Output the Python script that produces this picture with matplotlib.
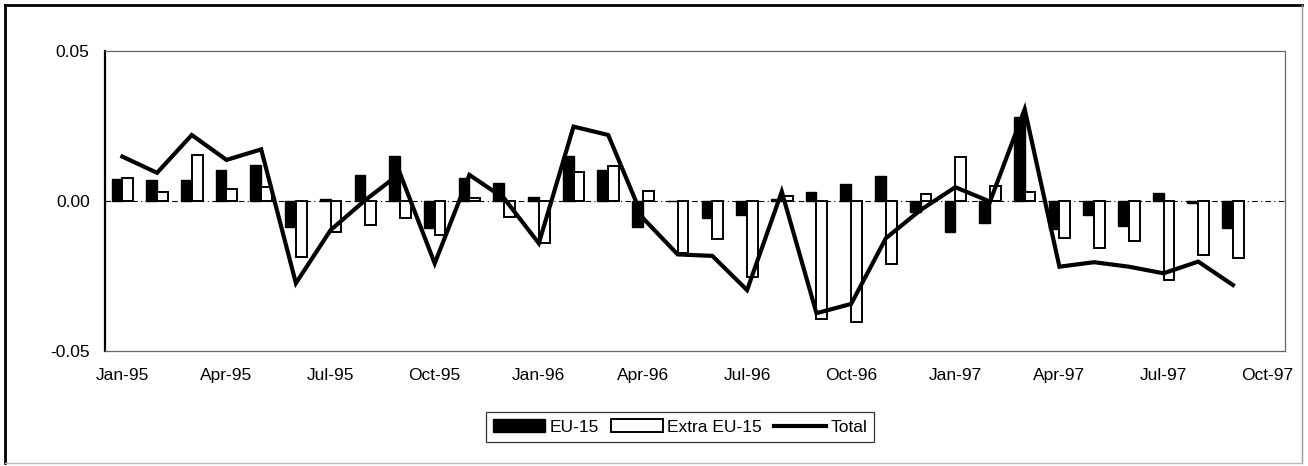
import numpy as np
import matplotlib.pyplot as plt
from matplotlib.patches import Patch
from matplotlib.lines import Line2D

# ------------------------------------------------------------
# DATA (monthly, Jan-95 .. Sep-97)
# ------------------------------------------------------------
months = ["Jan-95", "Feb-95", "Mar-95", "Apr-95", "May-95", "Jun-95",
          "Jul-95", "Aug-95", "Sep-95", "Oct-95", "Nov-95", "Dec-95",
          "Jan-96", "Feb-96", "Mar-96", "Apr-96", "May-96", "Jun-96",
          "Jul-96", "Aug-96", "Sep-96", "Oct-96", "Nov-96", "Dec-96",
          "Jan-97", "Feb-97", "Mar-97", "Apr-97", "May-97", "Jun-97",
          "Jul-97", "Aug-97", "Sep-97"]

eu15 = [0.0073, 0.0070, 0.0070, 0.0104, 0.0121, -0.0086,
        0.0007, 0.0087, 0.0150, -0.0091, 0.0076, 0.0061,
        0.0014, 0.0150, 0.0103, -0.0086, 0.0000, -0.0058,
        -0.0047, 0.0006, 0.0029, 0.0057, 0.0083, -0.0036,
        -0.0102, -0.0072, 0.0279, -0.0094, -0.0047, -0.0083,
        0.0026, -0.0008, -0.0091]

extra_eu15 = [0.0076, 0.0029, 0.0152, 0.0041, 0.0048, -0.0186,
              -0.0104, -0.0080, -0.0056, -0.0113, 0.0010, -0.0054,
              -0.0141, 0.0096, 0.0118, 0.0033, -0.0172, -0.0126,
              -0.0252, 0.0017, -0.0394, -0.0402, -0.0210, 0.0022,
              0.0148, 0.0051, 0.0029, -0.0124, -0.0158, -0.0132,
              -0.0263, -0.0180, -0.0189]

total = [0.0148, 0.0094, 0.0220, 0.0137, 0.0172, -0.0274,
         -0.0097, 0.0003, 0.0092, -0.0208, 0.0087, 0.0009,
         -0.0141, 0.0248, 0.0220, -0.0057, -0.0178, -0.0183,
         -0.0297, 0.0031, -0.0374, -0.0343, -0.0124, -0.0030,
         0.0046, -0.0002, 0.0306, -0.0219, -0.0204, -0.0219,
         -0.0241, -0.0202, -0.0280]

tick_labels = ["Jan-95", "Apr-95", "Jul-95", "Oct-95", "Jan-96", "Apr-96",
               "Jul-96", "Oct-96", "Jan-97", "Apr-97", "Jul-97", "Oct-97"]

# ------------------------------------------------------------
# PLOT
# ------------------------------------------------------------
plt.rcParams["font.family"] = ["Liberation Sans", "DejaVu Sans"]
plt.rcParams["font.size"] = 12.5

W, H = 1308, 466
fig = plt.figure(figsize=(W / 100, H / 100), dpi=100)
ax = fig.add_axes([105 / W, 1 - 351 / H, 1180 / W, 300 / H])

x = np.arange(len(months))
bw = 0.31
ax.bar(x - bw / 2, eu15, width=bw, color="black", edgecolor="black",
       linewidth=1.0, zorder=2)
ax.bar(x + bw / 2, extra_eu15, width=bw, color="white", edgecolor="black",
       linewidth=1.4, zorder=2)
ax.plot(x, total, color="black", linewidth=3.0, solid_joinstyle="miter",
        zorder=3)

# dash-dot zero line
ax.axhline(0, color="black", linewidth=0.8,
           linestyle=(0, (5, 3, 1, 3)), zorder=1)

ax.set_xlim(-0.5, 33.5)
ax.set_ylim(-0.05, 0.05)
ax.set_yticks([-0.05, 0.0, 0.05])
ax.set_yticklabels(["-0.05", "0.00", "0.05"])
ax.set_xticks(np.arange(0, 34, 3))
ax.set_xticklabels(tick_labels)
ax.tick_params(axis="x", length=0, pad=12)
ax.tick_params(axis="y", length=0, pad=11)

for side in ["top", "right", "bottom"]:
    ax.spines[side].set_color("#666666")
    ax.spines[side].set_linewidth(0.9)
    ax.spines[side].set_linestyle((0, (2, 1)))
ax.spines["left"].set_color("black")
ax.spines["left"].set_linewidth(1.6)

handles = [
    Patch(facecolor="black", edgecolor="black", label="EU-15"),
    Patch(facecolor="white", edgecolor="black", linewidth=1.4,
          label="Extra EU-15"),
    Line2D([0], [0], color="black", linewidth=3.0, label="Total"),
]
leg = fig.legend(handles=handles, loc="center", ncol=3,
                 bbox_to_anchor=(680 / W, 1 - 427 / H),
                 frameon=True, fancybox=False, edgecolor="black",
                 handlelength=3.0, handleheight=0.8, handletextpad=0.25,
                 columnspacing=0.7, borderpad=0.4, borderaxespad=0)
leg.get_frame().set_linewidth(0.9)

# outer chart frame
fig.add_artist(Line2D([5 / W, 1302 / W], [1 - 5 / H, 1 - 5 / H],
                      color="black", linewidth=2.0))
fig.add_artist(Line2D([5 / W, 5 / W], [1 - 5 / H, 1 - 463 / H],
                      color="black", linewidth=2.0))
fig.add_artist(Line2D([1302 / W, 1302 / W], [1 - 5 / H, 1 - 463 / H],
                      color="#999999", linewidth=1.0))
fig.add_artist(Line2D([5 / W, 1302 / W], [1 - 463 / H, 1 - 463 / H],
                      color="#bbbbbb", linewidth=1.0))

fig.savefig("out.png", dpi=100, facecolor="white")
plt.close(fig)
